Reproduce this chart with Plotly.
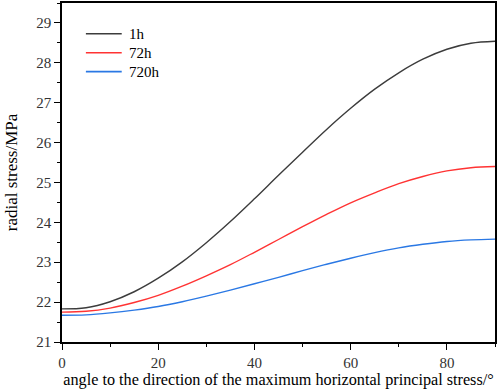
import plotly.graph_objects as go

angle = [0, 5, 10, 15, 20, 25, 30, 35, 40, 45, 50, 55, 60, 65, 70, 75, 80, 85, 90]
s_1h = [21.83, 21.86, 22.01, 22.26, 22.60, 23.01, 23.49, 24.02, 24.59, 25.18,
        25.76, 26.33, 26.86, 27.34, 27.75, 28.09, 28.34, 28.49, 28.54]
s_72h = [21.75, 21.77, 21.85, 21.99, 22.17, 22.40, 22.66, 22.94, 23.25, 23.57,
         23.89, 24.20, 24.49, 24.74, 24.97, 25.15, 25.29, 25.37, 25.40]
s_720h = [21.67, 21.68, 21.73, 21.80, 21.89, 22.01, 22.15, 22.30, 22.46, 22.62,
          22.79, 22.95, 23.10, 23.24, 23.36, 23.45, 23.52, 23.56, 23.58]

names = ["1h", "72h", "720h"]
colors = ["#3c3c3c", "#ff3333", "#2a78e4"]
values = [s_1h, s_72h, s_720h]

font = "Liberation Serif, Times New Roman, serif"
W, H = 498, 389
ML, MR, MT, MB = 62, 1, 1, 47
plot_h = H - MT - MB
plot_w = W - ML - MR

fig = go.Figure()
for name, vals, col in zip(names, values, colors):
    fig.add_trace(go.Scatter(x=angle, y=vals, name=name, mode="lines", showlegend=False,
                             hoverinfo="skip",
                             line=dict(color=col, width=1.4, shape="spline")))

# manual legend (paper coordinates)
shapes = []
annotations = []
leg_rows_px = [32, 51, 70]
for name, col, ypx in zip(names, colors, leg_rows_px):
    yp = 1 - (ypx - MT) / plot_h
    x0 = (86 - ML) / plot_w
    x1 = (122 - ML) / plot_w
    shapes.append(dict(type="line", xref="paper", yref="paper", x0=x0, x1=x1, y0=yp, y1=yp,
                       line=dict(color=col, width=1.6)))
    annotations.append(dict(xref="paper", yref="paper", x=(127 - ML) / plot_w, y=yp,
                            xanchor="left", yanchor="middle", text=name, showarrow=False,
                            font=dict(family=font, size=15, color="black")))

axis_common = dict(showgrid=False, zeroline=False, showline=True, linecolor="black",
                   linewidth=1.5, mirror=True, ticks="outside", ticklen=6, tickwidth=1.2,
                   tickcolor="black", tickfont=dict(family=font, size=15, color="#333"))
fig.update_layout(
    width=W, height=H,
    margin=dict(l=ML, r=MR, t=MT, b=MB),
    paper_bgcolor="white", plot_bgcolor="white",
    font=dict(family=font, size=15, color="black"),
    shapes=shapes, annotations=annotations,
    xaxis=dict(range=[0, 90], tickvals=[0, 20, 40, 60, 80],
               minor=dict(tickvals=[10, 30, 50, 70, 90], ticklen=3, tickcolor="black", ticks="outside"),
               title=dict(text="angle to the direction of the maximum horizontal principal stress/°",
                          font=dict(family=font, size=16.2), standoff=5),
               **axis_common),
    yaxis=dict(range=[21, 29.5], tickvals=[21, 22, 23, 24, 25, 26, 27, 28, 29],
               minor=dict(tickvals=[21.5, 22.5, 23.5, 24.5, 25.5, 26.5, 27.5, 28.5, 29.5],
                          ticklen=3, tickcolor="black", ticks="outside"),
               title=dict(text="radial stress/MPa", font=dict(family=font, size=17), standoff=14),
               **axis_common),
)
fig.write_html("out.html", config={"displayModeBar": False},
               post_script="document.body.style.margin='0';document.body.style.overflow='hidden';")
